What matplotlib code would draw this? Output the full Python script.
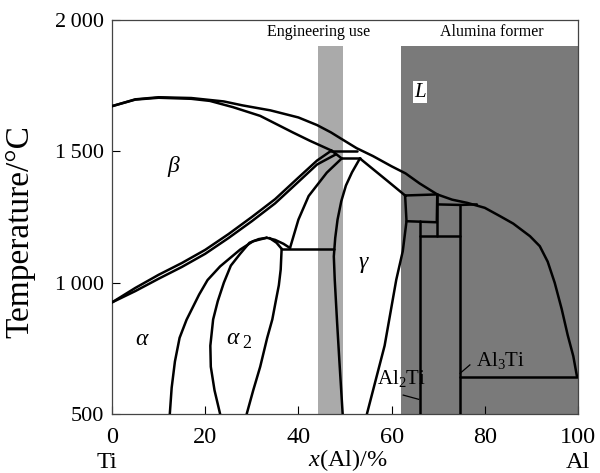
import matplotlib
matplotlib.use('Agg')
import matplotlib.pyplot as plt

plt.rcParams['font.family'] = ['Liberation Serif', 'DejaVu Serif']
plt.rcParams['mathtext.fontset'] = 'custom'
plt.rcParams['mathtext.rm'] = 'Liberation Serif'
plt.rcParams['mathtext.it'] = 'Liberation Serif:italic'

# ---------------- data (x = mole % Al, T in deg C) ----------------
liquidus_x = [0, 5, 10, 17, 24, 28, 34, 40, 44, 47, 49, 52.5, 56, 60, 63, 66, 69.8,
              73, 76.2, 80, 83.3, 86.1, 89.7, 91.8, 93.5, 95, 96.5, 97.8, 99, 99.8]
liquidus_T = [1672, 1698, 1706, 1703, 1690, 1675, 1656, 1629, 1600, 1572, 1550, 1512, 1482, 1443, 1416, 1378, 1336,
              1316, 1304, 1285, 1253, 1225, 1177, 1139, 1080, 1000, 900, 800, 720, 641]

solidus_x = [0, 5, 10, 17, 21, 26, 31.8, 38.8, 42.5, 47.1]
solidus_T = [1672, 1697, 1704, 1700, 1692, 1668, 1635, 1572, 1540, 1503]

beta_upper_x = [0, 5, 10, 15, 20, 25, 30, 35, 40, 44, 47.1]
beta_upper_T = [925, 980, 1030, 1075, 1125, 1185, 1250, 1318, 1400, 1465, 1503]
beta_lower_x = [0, 5, 10, 15, 20, 25, 30, 35, 40, 44, 48.1]
beta_lower_T = [925, 968, 1015, 1060, 1110, 1170, 1234, 1302, 1384, 1450, 1489]

perit_top_x = [47.1, 52.5]
perit_top_T = [1503, 1503]
perit_diag_x = [47.1, 49.3]
perit_diag_T = [1503, 1473]
perit_low_x = [49.3, 53.2]
perit_low_T = [1473, 1473]

gamma_right_x = [53.2, 59, 62.9]
gamma_right_T = [1473, 1389, 1332]
gamma_right_low_x = [63.2, 62.4, 61.0, 58.5, 54.7]
gamma_right_low_T = [1234, 1120, 1011, 760, 500]

alpha_bnd_x = [49.3, 46.1, 42.2, 40.0, 39.0, 38.2]
alpha_bnd_T = [1473, 1419, 1330, 1240, 1180, 1132]

gamma_left_x = [53.2, 51.5, 50.2, 49.2, 48.4, 47.9, 47.6, 47.8, 48.3, 48.8, 49.5]
gamma_left_T = [1473, 1420, 1370, 1310, 1240, 1170, 1100, 1011, 850, 700, 500]

eutectoid_x = [36.4, 47.7]
eutectoid_T = [1129, 1129]

a2_right_x = [36.4, 36.2, 35.8, 35.2, 34.4, 33.3, 31.8, 30.3, 28.9]
a2_right_T = [1129, 1050, 990, 935, 860, 790, 680, 590, 500]

a2_left_x = [33.2, 31.5, 29.5, 27.5, 25.5, 24.0, 22.7, 21.7, 21.1, 21.2, 22.0, 23.2]
a2_left_T = [1171, 1166, 1152, 1110, 1065, 1000, 930, 860, 760, 680, 590, 500]

alpha_left_x = [33.2, 30.3, 27.5, 23.2, 20.5, 18.7, 16.0, 14.5, 13.5, 12.8, 12.4]
alpha_left_T = [1171, 1158, 1126, 1062, 1010, 955, 859, 790, 700, 600, 500]

lens_up_x = [33.2, 35.0, 36.8, 38.2]
lens_up_T = [1171, 1163, 1148, 1132]
lens_lo_x = [33.8, 35.3, 36.4]
lens_lo_T = [1170, 1152, 1129]

box1_x = [62.9, 69.8, 69.7, 63.2, 62.9]
box1_T = [1332, 1336, 1230, 1234, 1332]
v_6998_x = [69.8, 69.8]
v_6998_T = [1336, 1177]
al2ti_x = [66.1, 66.1]
al2ti_T = [1234, 500]
h_1177_x = [66.1, 74.7]
h_1177_T = [1177, 1177]
box2_top_x = [69.8, 74.7, 78.3]
box2_top_T = [1298, 1296, 1298]
al3ti_x = [74.7, 74.7]
al3ti_T = [1296, 500]
al3ti_bottom_x = [74.7, 99.8]
al3ti_bottom_T = [641, 641]

lead_al2ti_x = [62.5, 65.8]
lead_al2ti_T = [572, 556]
lead_al3ti_x = [74.7, 76.8]
lead_al3ti_T = [655, 687]

eng_band = (44.3, 49.5)
alumina_band = (62.1, 100)
band_top = 1900

x_ticks = [0, 20, 40, 60, 80, 100]
y_ticks = [500, 1000, 1500, 2000]
y_ticklabels = ['500', '1\u2009000', '1\u2009500', '2\u2009000']

# ---------------- figure ----------------
fig = plt.figure(figsize=(6, 4.73), dpi=100)
ax = fig.add_axes([0.1867, 0.1247, 0.7766, 0.833])
ax.set_xlim(0, 100)
ax.set_ylim(500, 2000)

ax.fill_between(eng_band, 500, band_top, color='#aaaaaa', lw=0, zorder=0)
ax.fill_between(alumina_band, 500, band_top, color='#7a7a7a', lw=0, zorder=0)

lines = [
    (liquidus_x, liquidus_T), (solidus_x, solidus_T),
    (beta_upper_x, beta_upper_T), (beta_lower_x, beta_lower_T),
    (perit_top_x, perit_top_T), (perit_diag_x, perit_diag_T), (perit_low_x, perit_low_T),
    (gamma_right_x, gamma_right_T), (gamma_right_low_x, gamma_right_low_T),
    (alpha_bnd_x, alpha_bnd_T), (gamma_left_x, gamma_left_T),
    (eutectoid_x, eutectoid_T), (a2_right_x, a2_right_T), (a2_left_x, a2_left_T),
    (alpha_left_x, alpha_left_T), (lens_up_x, lens_up_T), (lens_lo_x, lens_lo_T),
    (box1_x, box1_T), (v_6998_x, v_6998_T), (al2ti_x, al2ti_T), (h_1177_x, h_1177_T),
    (box2_top_x, box2_top_T), (al3ti_x, al3ti_T), (al3ti_bottom_x, al3ti_bottom_T),
]
for xs, ts in lines:
    ax.plot(xs, ts, color='black', lw=1.8, solid_joinstyle='round', solid_capstyle='round', zorder=3)
for xs, ts in [(lead_al2ti_x, lead_al2ti_T), (lead_al3ti_x, lead_al3ti_T)]:
    ax.plot(xs, ts, color='black', lw=0.9, zorder=3)

ax.set_xticks(x_ticks)
ax.set_yticks(y_ticks)
ax.set_yticklabels(y_ticklabels)
ax.tick_params(direction='in', length=6, width=0.8, colors='black')
ax.tick_params(axis='y', labelsize=16, pad=6)
ax.tick_params(axis='x', labelsize=17.5, pad=9)
for s in ax.spines.values():
    s.set_color('#444444')
    s.set_linewidth(0.9)

# labels
ax.text(44.3, 1954, 'Engineering use', ha='center', va='center', fontsize=11.5)
ax.text(81.5, 1954, 'Alumina former', ha='center', va='center', fontsize=11.5)
ax.text(66.1, 1725, 'L', style='italic', fontsize=15, ha='center', va='center',
        bbox=dict(facecolor='white', edgecolor='none', pad=1.0), zorder=4)
ax.text(13.2, 1444, 'β', style='italic', fontsize=17, ha='center', va='center')
ax.text(53.9, 1075, 'γ', style='italic', fontsize=17, ha='center', va='center')
ax.text(6.4, 782, 'α', style='italic', fontsize=17, ha='center', va='center')
ax.text(25.9, 788, 'α', style='italic', fontsize=17, ha='center', va='center')
ax.text(28.9, 770, '2', fontsize=13, ha='center', va='center')
ax.text(62.2, 636, 'Al$_2$Ti', fontsize=15, ha='center', va='center', zorder=5)
ax.text(83.3, 703, 'Al$_3$Ti', fontsize=15, ha='center', va='center', zorder=5)

ax.text(-1.0, -0.122, 'Ti', transform=ax.get_xaxis_transform(), ha='center', va='center', fontsize=17.5)
ax.text(100, -0.122, 'Al', transform=ax.get_xaxis_transform(), ha='center', va='center', fontsize=17.5)
ax.text(50.5, -0.118, '$x$(Al)/%', transform=ax.get_xaxis_transform(), ha='center', va='center', fontsize=17.5)
fig.text(20 / 600, 1 - 232 / 473, 'Temperature/°C', rotation=90, ha='center', va='center', fontsize=24)

fig.savefig('out.png', dpi=100)
